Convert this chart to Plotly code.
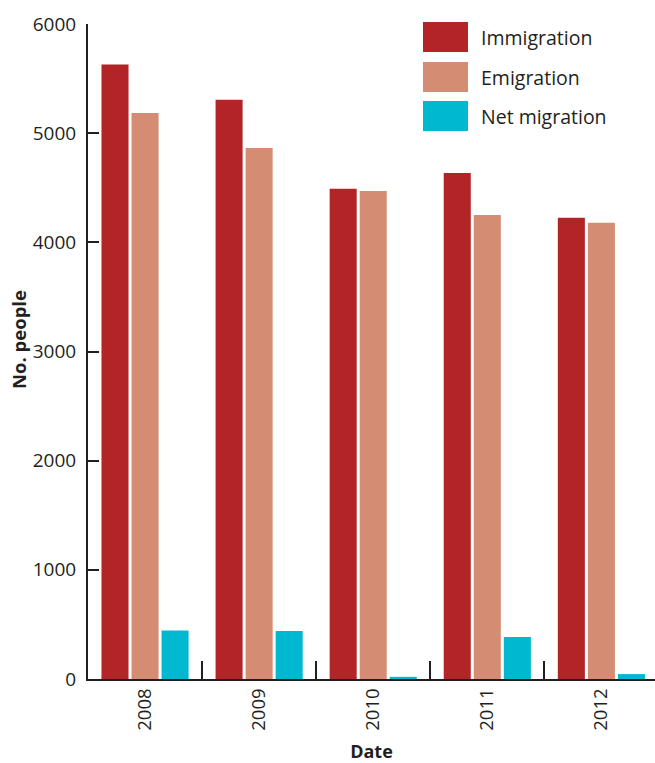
import plotly.graph_objects as go

years = ["2008", "2009", "2010", "2011", "2012"]
immigration = [5630, 5305, 4490, 4635, 4225]
emigration = [5185, 4865, 4470, 4250, 4180]
net_migration = [445, 440, 20, 385, 45]

series_names = ["Immigration", "Emigration", "Net migration"]
series_colors = ["#b22425", "#d48c73", "#00b8cf"]
series_values = [immigration, emigration, net_migration]

FONT = "Open Sans"
TXT = "#231f20"

fig = go.Figure()
for name, color, vals in zip(series_names, series_colors, series_values):
    fig.add_trace(go.Bar(x=years, y=vals, name=name, marker_color=color,
                         marker_line_width=0, showlegend=False))

# custom legend with large swatches
shapes = []
annotations = []
legend_y = [37, 77, 116]  # pixel centers
for name, color, yc in zip(series_names, series_colors, legend_y):
    shapes.append(dict(type="rect", xref="paper", yref="paper",
                       x0=(423 - 88) / 567, x1=(468 - 88) / 567,
                       y0=(679 - (yc + 15)) / 655, y1=(679 - (yc - 15)) / 655,
                       fillcolor=color, line_width=0))
    annotations.append(dict(xref="paper", yref="paper", x=(479 - 88) / 567,
                            y=(679 - yc) / 655, text=name, showarrow=False,
                            xanchor="left", yanchor="middle",
                            font=dict(family=FONT, size=19.5, color=TXT)))

# y axis title placed as annotation
annotations.append(dict(xref="paper", yref="paper", x=(18 - 88) / 567,
                        y=(679 - 340) / 655, text="<b>No. people</b>", showarrow=False,
                        textangle=-90, xanchor="center", yanchor="middle",
                        font=dict(family=FONT, size=18.5, color=TXT)))

fig.update_layout(
    width=655, height=763,
    margin=dict(l=88, r=0, t=24, b=84),
    paper_bgcolor="white", plot_bgcolor="white",
    barmode="group", bargap=0.21, bargroupgap=0.1,
    font=dict(family=FONT, size=18, color=TXT),
    shapes=shapes, annotations=annotations,
    xaxis=dict(
        range=[-0.5, 4.47], showgrid=False, showline=True, linecolor=TXT, linewidth=2,
        ticks="inside", tickson="boundaries", ticklen=18, tickwidth=2, tickcolor=TXT,
        tickangle=-90, tickfont=dict(family=FONT, size=18.5, color=TXT),
        title=dict(text="<b>Date</b>", font=dict(family=FONT, size=18, color=TXT), standoff=20),
    ),
    yaxis=dict(
        range=[0, 6000], dtick=1000, showgrid=False, zeroline=False,
        showline=True, linecolor=TXT, linewidth=2,
        ticks="inside", ticklen=11, tickwidth=2, tickcolor=TXT,
        ticklabelstandoff=6,
        tickfont=dict(family=FONT, size=19, color=TXT),
    ),
)

fig.write_html("out.html")
